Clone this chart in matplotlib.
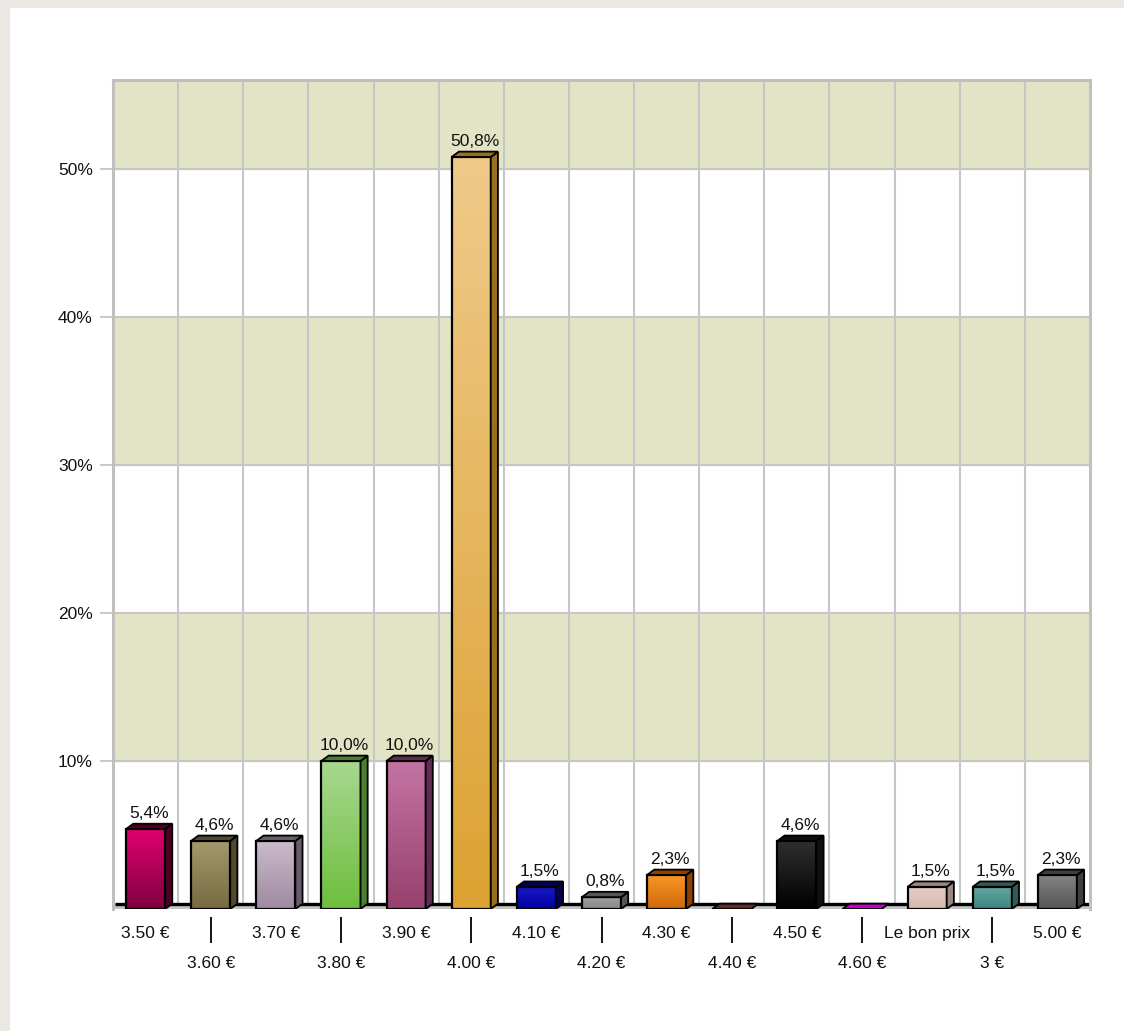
import numpy as np
import matplotlib
matplotlib.use("Agg")
import matplotlib.pyplot as plt
from matplotlib.patches import Polygon, Rectangle

# prix proposés et part des réponses (%)
categories = ["3.50 €", "3.60 €", "3.70 €", "3.80 €", "3.90 €", "4.00 €", "4.10 €",
              "4.20 €", "4.30 €", "4.40 €", "4.50 €", "4.60 €", "Le bon prix", "3 €", "5.00 €"]
values = [5.4, 4.6, 4.6, 10.0, 10.0, 50.8, 1.5, 0.8, 2.3, 0.0, 4.6, 0.0, 1.5, 1.5, 2.3]

# couleur haut du dégradé, bas du dégradé, faces côté/dessus
top_colors = ["#e0006e", "#a59a6c", "#cbbccb", "#a8d890", "#c474a4", "#f0ca8a", "#1818c8",
              "#a0a0a0", "#f89828", "#602828", "#303030", "#c400c4", "#e8cdc6", "#64aaa4", "#858585"]
bottom_colors = ["#7e0040", "#766a40", "#9e8aa0", "#6ebe3e", "#96406e", "#dca232", "#0000a0",
                 "#888888", "#d06808", "#501818", "#000000", "#900090", "#d8b8b0", "#3e847e", "#555555"]
side_colors = ["#4e0022", "#4f4a2e", "#6a5a6e", "#4a7f2e", "#622c52", "#987020", "#00005c",
               "#555555", "#8c4200", "#3a1010", "#101010", "#700070", "#9e8680", "#2e5a58", "#3e3e3e"]

y_ticks = [10, 20, 30, 40, 50]
bands = [(10, 20), (30, 40), (50, 56)]

plt.rcParams["font.family"] = ["Liberation Sans", "DejaVu Sans"]
FS = 12.5

fig = plt.figure(figsize=(11.24, 10.31), dpi=100, facecolor="#ebe8e3")
fig.patches.append(Rectangle((10 / 1124, 0), 1, 1 - 8 / 1031, transform=fig.transFigure,
                             facecolor="white", edgecolor="none", zorder=-1))

ax = fig.add_axes([113 / 1124, 122 / 1031, 977 / 1124, 829 / 1031])
ax.set_facecolor("white")

n = len(categories)
ymax = 56.0
width = 0.6
dx, dy = 0.11, 0.36  # profondeur 3D des barres

# bandes de fond et grille
for lo, hi in bands:
    ax.axhspan(lo, hi, color="#e3e4c6", zorder=0)
for y in y_ticks:
    ax.axhline(y, color="#c6c6c6", lw=1.5, zorder=1)
for i in range(1, n):
    ax.axvline(i - 0.5, color="#c6c6c6", lw=1.5, zorder=1)

# sol
floor = Polygon([(-0.5, 0), (n - 0.5, 0), (n - 0.5, dy), (-0.5, dy)],
                closed=True, facecolor="#c4c4c4", edgecolor="none", zorder=2)
ax.add_patch(floor)
ax.plot([-0.47, n - 0.5], [dy, dy], color="black", lw=2.4, zorder=2.5, solid_capstyle="butt")

for i, v in enumerate(values):
    x0 = i - width / 2
    x1 = i + width / 2
    if v <= 0:
        # barre vide : seulement le dessus posé sur le sol
        top = Polygon([(x0, 0), (x1, 0), (x1 + dx, dy), (x0 + dx, dy)], closed=True,
                      facecolor=top_colors[i], edgecolor="black", lw=1.3, zorder=4)
        ax.add_patch(top)
        continue

    # face avant en dégradé
    grad = np.linspace(0, 1, 256).reshape(-1, 1)
    c_top = np.array(matplotlib.colors.to_rgb(top_colors[i]))
    c_bot = np.array(matplotlib.colors.to_rgb(bottom_colors[i]))
    img = c_top[None, None, :] * (1 - grad[:, :, None]) + c_bot[None, None, :] * grad[:, :, None]
    ax.imshow(img, extent=(x0, x1, 0, v), origin="upper", aspect="auto",
              interpolation="bilinear", zorder=3)
    ax.add_patch(Rectangle((x0, 0), width, v, facecolor="none", edgecolor="black",
                           lw=1.6, zorder=4))

    # côté et dessus
    side = Polygon([(x1, 0), (x1 + dx, dy), (x1 + dx, v + dy), (x1, v)], closed=True,
                   facecolor=side_colors[i], edgecolor="black", lw=1.3, zorder=4)
    top = Polygon([(x0, v), (x1, v), (x1 + dx, v + dy), (x0 + dx, v + dy)], closed=True,
                  facecolor=side_colors[i], edgecolor="black", lw=1.3, zorder=4)
    ax.add_patch(side)
    ax.add_patch(top)

    label = f"{v:.1f}".replace(".", ",") + "%"
    ax.text(i + dx / 2, v + dy + 0.2, label, ha="center", va="bottom",
            fontsize=FS, color="#111111", zorder=5)

ax.set_xlim(-0.5, n - 0.5)
ax.set_ylim(0, ymax)

# axe y
ax.set_yticks(y_ticks)
ax.set_yticklabels([f"{t}%" for t in y_ticks], fontsize=FS, color="#111111")
ax.tick_params(axis="y", length=9.5, width=1.2, color="#c0c0c0", pad=5)

# axe x : étiquettes en quinconce
ax.set_xticks(range(n))
ax.set_xticklabels(categories, fontsize=FS, color="#111111")
ax.tick_params(axis="x", length=0)
for i, tick in enumerate(ax.xaxis.get_major_ticks()):
    tick.set_pad(12 if i % 2 == 0 else 34)
lower = [i for i in range(n) if i % 2 == 1]
ax.vlines(lower, -0.041, -0.0095, transform=ax.get_xaxis_transform(),
          color="black", lw=1.3, clip_on=False)

for side_name in ["left", "top", "right"]:
    ax.spines[side_name].set_color("#c0c0c0")
    ax.spines[side_name].set_linewidth(2.2)
ax.spines["bottom"].set_visible(False)

fig.savefig("out.png", dpi=100, facecolor=fig.get_facecolor())
